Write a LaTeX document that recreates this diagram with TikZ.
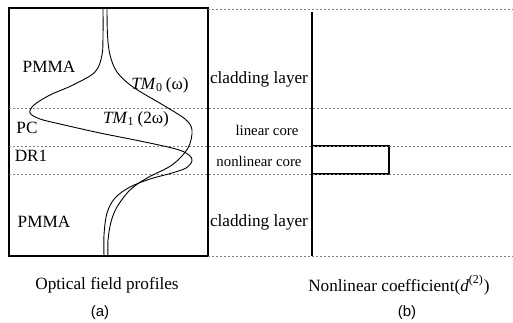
\documentclass[tikz,border=0pt]{standalone}
\usepackage{fontspec}
\setmainfont{Liberation Serif}
\newfontfamily\labfont{Liberation Sans}
\usetikzlibrary{positioning}

\begin{document}
\begin{tikzpicture}[x=0.5pt, y=-0.5pt,
    frame/.style={line width=0.6pt},
    layerline/.style={gray, line width=0.4pt, dash pattern=on 1.2pt off 0.8pt},
    field/.style={line width=0.45pt, smooth, tension=0.55},
    lbl/.style={inner sep=0pt, font=\fontsize{8.6}{10}\selectfont},
    small/.style={inner sep=0pt, font=\fontsize{7.4}{9}\selectfont},
    sub/.style={inner sep=0pt, font=\labfont\fontsize{7.5}{9}\selectfont}]
  \useasboundingbox (0,0) rectangle (513,322);

  % Frames
  \draw[frame] (9,8) rectangle (208,256);
  \draw[frame] (312,12) -- (312,256);
  \draw[frame] (312,146) rectangle (389,174);

  % Layer boundaries
  \draw[layerline] (208,9) -- (513,9);
  \draw[layerline] (9,108) -- (513,108);
  \draw[layerline] (9,146) -- (513,146);
  \draw[layerline] (9,174) -- (513,174);
  \draw[layerline] (208,256) -- (513,256);

  % Field profiles
  \draw[field] plot coordinates {(107,8) (107.5,35) (110,55) (117,72)
    (133,87) (163,105) (185,119) (192,130) (188,148) (172,165)
    (147,178) (130,190) (117,207) (111,222) (108,240) (108,256)};
  \draw[field] plot coordinates {(103,8) (103,35) (102,55) (95,72)
    (73,85) (50,95) (34,105) (30,113) (40,119) (60,124) (100,133)
    (140,141) (176,149) (189,155) (192,161) (186,168) (172,173)
    (150,179) (130,187) (115,198) (107,213) (104,235) (104,256)};

  % Layers of panel (a)
  \node[lbl] (pmmatop) at (49,67) {PMMA};
  \node[lbl] (pc) at (27,128) {PC};
  \node[lbl] (dr1) at (31,156) {DR1};
  \node[lbl] (pmmabot) at (44,222) {PMMA};

  % Mode labels
  \node[lbl] (tmzero) at (160,85) {\textit{TM}\textsubscript{0}\,(ω)};
  \node[lbl] (tmone) at (136,119) {\textit{TM}\textsubscript{1}\,(2ω)};

  % Layer names
  \node[lbl] (cladtop) at (259,79) {cladding layer};
  \node[small] (lincore) at (267,130) {linear core};
  \node[small] (nlcore) at (259,161) {nonlinear core};
  \node[lbl] (cladbot) at (259,222) {cladding layer};

  % Captions
  \node[lbl] (capa) at (107,285) {Optical field profiles};
  \node[lbl] (capb) at (399,285) {Nonlinear coefficient(\textit{d}\textsuperscript{(2)})};
  \node[sub] (laba) at (100,313) {(a)};
  \node[sub] (labb) at (407,313) {(b)};

\end{tikzpicture}
\end{document}
